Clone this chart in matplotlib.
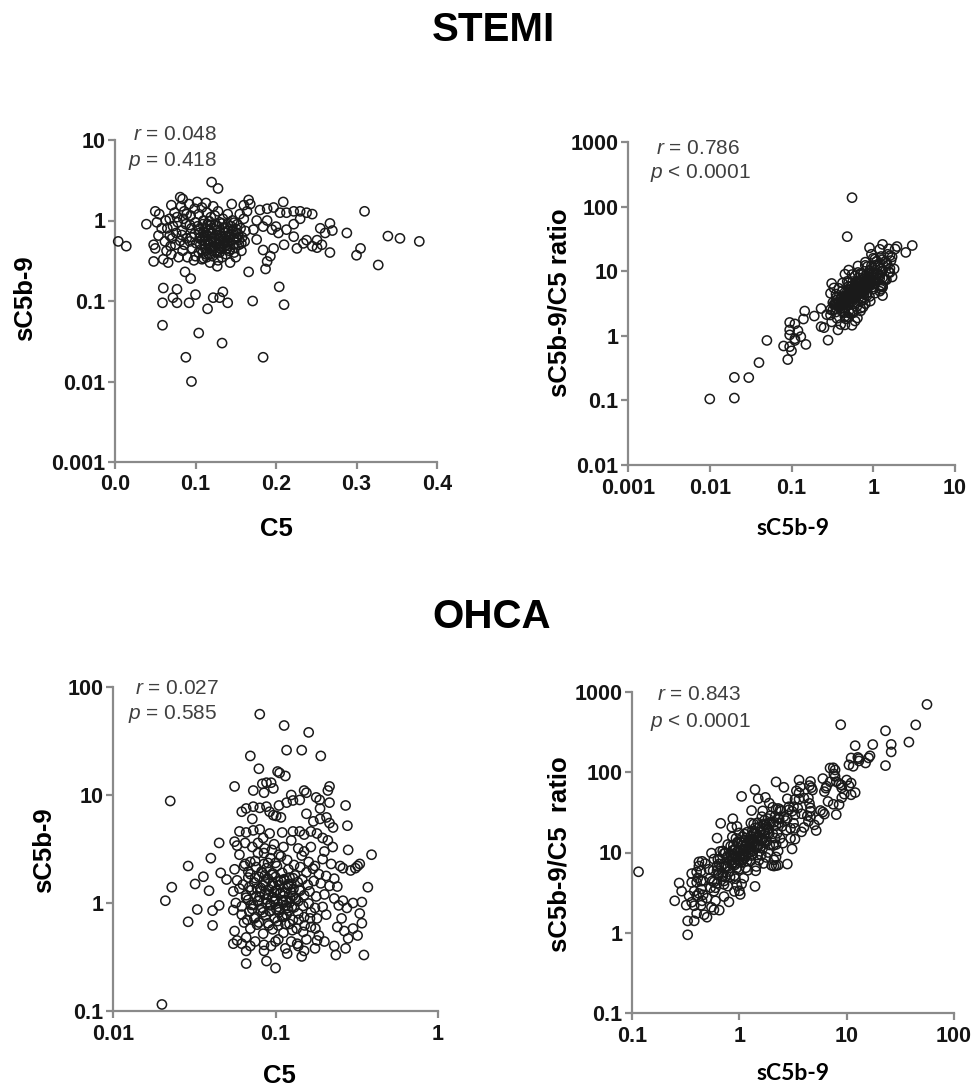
import numpy as np
import matplotlib.pyplot as plt
from matplotlib.ticker import NullLocator

plt.rcParams['font.family'] = 'Liberation Sans'
plt.rcParams['mathtext.fontset'] = 'custom'
plt.rcParams['mathtext.it'] = 'Liberation Sans:italic'
plt.rcParams['mathtext.rm'] = 'Liberation Sans'

# ---- STEMI: C5 and sC5b-9 per patient (ratio panel is sC5b-9 / C5) ----
stemi_c5 = [
    0.004, 0.014, 0.039, 0.048, 0.048, 0.060, 0.059, 0.059, 0.077, 0.072,
    0.077, 0.092, 0.087, 0.094, 0.100, 0.104, 0.088, 0.095, 0.115, 0.122,
    0.130, 0.134, 0.140, 0.133, 0.120, 0.128, 0.166, 0.171, 0.187, 0.184,
    0.204, 0.210, 0.209, 0.310, 0.288, 0.300, 0.305, 0.327, 0.339, 0.354,
    0.378, 0.267, 0.270, 0.267,
    0.180, 0.189, 0.197, 0.205, 0.213, 0.222, 0.230, 0.238, 0.245, 0.230,
    0.222, 0.213, 0.200, 0.195, 0.203, 0.210, 0.226, 0.234, 0.238, 0.245,
    0.251, 0.255, 0.261, 0.251, 0.257, 0.222, 0.197, 0.193, 0.189, 0.184,
    0.176, 0.172, 0.184, 0.189, 0.176, 0.164, 0.168, 0.160, 0.166,
    0.050, 0.055, 0.052, 0.058, 0.054, 0.050, 0.062, 0.064, 0.060, 0.066,
    0.068, 0.070, 0.072, 0.068, 0.075, 0.070, 0.074, 0.078, 0.076, 0.079,
    0.081, 0.084, 0.082, 0.086, 0.085, 0.088, 0.083, 0.089, 0.086, 0.084,
    0.090, 0.092, 0.094, 0.095, 0.093, 0.096, 0.098, 0.099, 0.100, 0.099,
    0.102, 0.104, 0.103, 0.105, 0.106, 0.104, 0.108, 0.108, 0.110, 0.110,
    0.111, 0.112, 0.113, 0.114, 0.115, 0.115, 0.116, 0.117, 0.118, 0.119,
    0.120, 0.120, 0.121, 0.118, 0.112, 0.122, 0.124, 0.124, 0.125, 0.126,
    0.126, 0.127, 0.128, 0.130, 0.130, 0.131, 0.132, 0.133, 0.134, 0.135,
    0.136, 0.137, 0.138, 0.140, 0.140, 0.141, 0.142, 0.143, 0.145, 0.146,
    0.147, 0.148, 0.149, 0.150, 0.152, 0.153, 0.154, 0.155, 0.156, 0.157,
    0.158, 0.160, 0.161, 0.162,
    0.105, 0.108, 0.112, 0.117, 0.119, 0.123, 0.127, 0.129, 0.131, 0.134,
    0.137, 0.139, 0.143, 0.144, 0.147, 0.151, 0.109, 0.114, 0.121, 0.128,
    0.101, 0.104, 0.107, 0.109, 0.111, 0.113, 0.115, 0.117, 0.119, 0.121,
    0.123, 0.125, 0.127, 0.129, 0.131, 0.133, 0.135, 0.137, 0.139, 0.141,
    0.143, 0.145, 0.148, 0.151, 0.154, 0.157, 0.100, 0.106, 0.112, 0.118,
    0.124, 0.130, 0.136, 0.142, 0.148, 0.110, 0.120, 0.130, 0.140, 0.150,
    0.065, 0.071, 0.077, 0.083, 0.089, 0.095, 0.063, 0.069, 0.081, 0.093,
]
stemi_sc5b9 = [
    0.55, 0.48, 0.90, 0.50, 0.31, 0.145, 0.095, 0.05, 0.14, 0.11,
    0.095, 0.095, 0.23, 0.19, 0.12, 0.04, 0.02, 0.01, 0.08, 0.11,
    0.11, 0.13, 0.095, 0.03, 3.0, 2.5, 0.23, 0.10, 0.25, 0.02,
    0.15, 0.09, 1.7, 1.3, 0.70, 0.37, 0.45, 0.28, 0.64, 0.60,
    0.55, 0.92, 0.75, 0.40,
    1.35, 1.40, 1.45, 1.25, 1.25, 1.30, 1.30, 1.25, 1.20, 1.05,
    0.90, 0.77, 0.84, 0.77, 0.70, 0.50, 0.45, 0.52, 0.57, 0.48,
    0.57, 0.80, 0.70, 0.46, 0.50, 0.63, 0.45, 0.36, 0.31, 0.43,
    0.58, 0.77, 0.84, 1.00, 1.00, 1.30, 1.60, 1.55, 1.80,
    1.30, 1.20, 0.95, 0.80, 0.65, 0.45, 0.55, 0.42, 0.33, 0.30,
    1.05, 1.55, 0.85, 0.65, 0.50, 0.38, 1.25, 0.95, 0.70, 0.35,
    1.95, 1.85, 1.50, 1.30, 1.05, 0.90, 0.75, 0.60, 0.50, 0.42,
    0.35, 1.60, 1.15, 0.80, 0.55, 0.45, 0.32, 1.40, 0.95, 0.68,
    1.70, 1.20, 0.85, 0.60, 0.50, 0.40, 0.33, 1.45, 1.00, 0.72,
    0.55, 0.45, 1.65, 1.25, 0.90, 0.65, 0.52, 0.38, 0.30, 1.10,
    0.80, 0.60, 0.48, 0.70, 0.62, 1.50, 1.15, 0.88, 0.66, 0.50,
    0.40, 0.27, 1.30, 0.95, 0.72, 0.55, 0.44, 0.35, 1.05, 0.80,
    0.60, 0.48, 0.38, 1.20, 0.90, 0.52, 0.42, 0.30, 1.60, 1.00,
    0.75, 0.58, 0.46, 0.35, 0.90, 0.68, 0.50, 1.20, 0.80, 0.42,
    0.62, 1.05, 0.55, 0.74,
    0.70, 0.58, 0.80, 0.75, 0.55, 0.62, 0.85, 0.46, 0.64, 0.52,
    0.70, 0.45, 0.62, 0.85, 0.50, 0.60, 0.40, 0.35, 0.36, 0.32,
    0.52, 0.78, 0.44, 0.90, 0.66, 0.38, 0.56, 0.98, 0.46, 0.70,
    0.54, 0.42, 0.76, 0.60, 0.48, 0.92, 0.56, 0.64, 0.50, 0.74,
    0.44, 0.68, 0.40, 0.78, 0.58, 0.52, 0.36, 0.62, 0.50, 0.88,
    0.46, 0.58, 0.82, 0.66, 0.94, 0.34, 0.42, 0.40, 0.56, 0.70,
    0.80, 0.60, 1.10, 0.66, 1.20, 0.62, 1.00, 0.48, 0.56, 0.88,
]

# ---- OHCA ----
ohca_c5 = [
    0.020, 0.021, 0.0225, 0.023, 0.029, 0.029, 0.033, 0.032, 0.036, 0.039,
    0.040, 0.041, 0.041, 0.045, 0.045, 0.046, 0.050, 0.056, 0.070, 0.079,
    0.080, 0.083, 0.088, 0.094, 0.103, 0.106, 0.115, 0.113, 0.117, 0.145,
    0.160, 0.190, 0.215, 0.210, 0.187, 0.155, 0.270, 0.277, 0.280, 0.390,
    0.370, 0.350, 0.235, 0.330, 0.066, 0.088, 0.100, 0.145, 0.066, 0.062,
    0.055, 0.056,
    0.062, 0.066, 0.073, 0.080, 0.088, 0.092, 0.097, 0.101, 0.108, 0.117,
    0.128, 0.141, 0.155, 0.171, 0.188, 0.206, 0.215, 0.226, 0.060, 0.066,
    0.073, 0.080, 0.084, 0.092, 0.110, 0.128, 0.141, 0.150, 0.165, 0.180,
    0.195, 0.210, 0.058, 0.065, 0.072, 0.078, 0.086, 0.098, 0.112, 0.125,
    0.138, 0.150, 0.165, 0.200, 0.225, 0.250, 0.260, 0.290, 0.310, 0.320,
    0.073, 0.085, 0.097, 0.125, 0.150, 0.178, 0.215, 0.188, 0.072, 0.105,
    0.060, 0.070, 0.078, 0.085, 0.093, 0.100, 0.108, 0.118, 0.130, 0.145,
    0.160, 0.175, 0.195, 0.220,
    0.056, 0.064, 0.070, 0.076, 0.082, 0.088, 0.095, 0.102, 0.110, 0.120,
    0.132, 0.142, 0.155, 0.170, 0.185, 0.205, 0.230,
    0.058, 0.063, 0.068, 0.074, 0.079, 0.084, 0.090, 0.096, 0.100, 0.106,
    0.113, 0.120, 0.128, 0.137, 0.146, 0.158, 0.172, 0.190, 0.215, 0.240,
    0.055, 0.060, 0.066, 0.071, 0.076, 0.081, 0.086, 0.091, 0.096, 0.101,
    0.107, 0.112, 0.118, 0.125, 0.132, 0.140, 0.150, 0.162, 0.178, 0.200,
    0.230, 0.260, 0.300, 0.340,
    0.057, 0.062, 0.068, 0.073, 0.078, 0.083, 0.088, 0.093, 0.098, 0.104,
    0.110, 0.116, 0.122, 0.130, 0.138, 0.148, 0.160, 0.175, 0.195, 0.245,
    0.275,
    0.055, 0.062, 0.069, 0.075, 0.081, 0.087, 0.093, 0.099, 0.105, 0.112,
    0.120, 0.128, 0.138, 0.150, 0.165, 0.180, 0.205, 0.255, 0.330, 0.340,
    0.056, 0.064, 0.070, 0.077, 0.084, 0.090, 0.096, 0.104, 0.112, 0.122,
    0.135, 0.148, 0.165, 0.185, 0.240, 0.265, 0.300, 0.320,
    0.058, 0.066, 0.075, 0.085, 0.094, 0.104, 0.115, 0.125, 0.138, 0.150,
    0.180, 0.280, 0.270,
    0.066, 0.069, 0.072, 0.075, 0.078, 0.081, 0.084, 0.087, 0.090, 0.093,
    0.096, 0.099, 0.102, 0.105, 0.108, 0.111, 0.114, 0.117, 0.120, 0.123,
    0.126, 0.129, 0.068, 0.074, 0.080, 0.086, 0.092, 0.098, 0.104, 0.110,
    0.116, 0.122, 0.128, 0.071, 0.077, 0.083, 0.089, 0.095, 0.101, 0.107,
    0.113, 0.119, 0.125, 0.134, 0.142, 0.067, 0.079, 0.091, 0.103, 0.115,
    0.127, 0.139, 0.151, 0.163, 0.176, 0.070, 0.085, 0.100, 0.118, 0.136,
    0.155, 0.175, 0.200, 0.230, 0.085, 0.095, 0.105, 0.065, 0.075, 0.090,
]
ohca_sc5b9 = [
    0.115, 1.05, 8.8, 1.4, 2.2, 0.67, 0.87, 1.5, 1.75, 1.3,
    2.6, 0.85, 0.62, 3.6, 0.95, 1.9, 1.65, 12.0, 23.0, 17.5,
    56.0, 12.7, 13.0, 13.0, 16.5, 16.0, 15.0, 44.0, 26.0, 26.0,
    38.0, 23.0, 12.0, 11.0, 9.0, 10.5, 8.0, 5.2, 3.1, 2.8,
    1.4, 0.33, 0.33, 2.3, 0.275, 0.29, 0.25, 0.32, 0.36, 0.42,
    0.42, 3.7,
    7.0, 7.5, 7.8, 7.6, 7.8, 7.0, 6.5, 6.4, 6.2, 8.5,
    8.9, 9.0, 6.7, 5.7, 6.0, 6.2, 5.5, 5.0, 4.6, 4.5,
    4.7, 4.8, 4.0, 4.4, 4.5, 4.6, 4.6, 4.3, 4.6, 4.4,
    4.0, 3.8, 3.4, 3.6, 3.3, 3.6, 3.2, 3.5, 3.3, 3.8,
    3.2, 3.0, 3.3, 3.0, 3.3, 2.2, 2.1, 2.0, 2.1, 2.2,
    11.0, 10.5, 11.5, 10.0, 11.0, 9.5, 8.5, 7.5, 6.0, 8.0,
    2.8, 2.4, 2.9, 2.3, 2.6, 2.35, 2.7, 2.5, 2.25, 2.75,
    2.4, 2.2, 2.55, 2.3,
    2.05, 2.2, 1.85, 2.15, 1.95, 2.1, 1.82, 2.2, 1.9, 2.05,
    1.8, 2.15, 1.92, 2.08, 1.85, 1.78, 1.68,
    1.62, 1.48, 1.72, 1.55, 1.75, 1.45, 1.68, 1.52, 1.74, 1.46,
    1.63, 1.5, 1.7, 1.56, 1.65, 1.47, 1.6, 1.52, 1.44, 1.42,
    1.28, 1.36, 1.18, 1.32, 1.15, 1.38, 1.22, 1.34, 1.14, 1.3,
    1.24, 1.16, 1.38, 1.26, 1.12, 1.33, 1.18, 1.28, 1.15, 1.2,
    1.1, 1.05, 1.0, 1.02,
    1.0, 0.93, 1.07, 0.96, 1.04, 0.9, 1.08, 0.97, 1.03, 0.92,
    1.06, 0.95, 1.01, 0.91, 1.04, 0.94, 0.99, 0.9, 0.92, 0.95,
    0.9,
    0.86, 0.78, 0.83, 0.74, 0.86, 0.77, 0.84, 0.72, 0.82, 0.75,
    0.85, 0.7, 0.8, 0.74, 0.82, 0.72, 0.78, 0.72, 0.8, 0.65,
    0.55, 0.66, 0.58, 0.63, 0.52, 0.65, 0.57, 0.62, 0.53, 0.64,
    0.58, 0.54, 0.6, 0.5, 0.6, 0.55, 0.58, 0.5,
    0.45, 0.48, 0.44, 0.41, 0.4, 0.46, 0.38, 0.44, 0.4, 0.36,
    0.45, 0.47, 0.38,
    1.12, 1.40, 0.88, 1.70, 1.05, 1.28, 0.82, 1.55, 1.18, 0.95,
    1.88, 1.08, 1.32, 0.86, 1.62, 1.02, 1.24, 0.78, 1.45, 1.10,
    0.92, 1.35, 1.95, 0.72, 1.14, 1.80, 0.84, 1.26, 1.58, 0.74,
    1.06, 1.72, 1.16, 0.96, 1.36, 1.90, 1.00, 1.44, 0.88, 1.22,
    1.66, 0.90, 1.50, 1.08, 1.30, 0.70, 0.66, 0.62, 0.68, 0.64,
    0.56, 0.70, 0.62, 0.72, 0.58, 0.40, 0.36, 0.44, 0.34, 0.42,
    0.46, 0.38, 0.44, 0.40, 2.9, 3.1, 2.8, 2.3, 2.45, 2.35,
]

stemi_ratio = np.array(stemi_sc5b9) / np.array(stemi_c5)
ohca_ratio = np.array(ohca_sc5b9) / np.array(ohca_c5)

# ticks
stemi_c5_ticks = [0.0, 0.1, 0.2, 0.3, 0.4]
stemi_c5_labels = ['0.0', '0.1', '0.2', '0.3', '0.4']
stemi_sc_ticks = [0.001, 0.01, 0.1, 1, 10]
stemi_sc_labels = ['0.001', '0.01', '0.1', '1', '10']
stemi_ratio_ticks = [0.01, 0.1, 1, 10, 100, 1000]
stemi_ratio_labels = ['0.01', '0.1', '1', '10', '100', '1000']
ohca_c5_ticks = [0.01, 0.1, 1]
ohca_c5_labels = ['0.01', '0.1', '1']
ohca_sc_ticks = [0.1, 1, 10, 100]
ohca_sc_labels = ['0.1', '1', '10', '100']
ohca_ratio_ticks = [0.1, 1, 10, 100, 1000]
ohca_ratio_labels = ['0.1', '1', '10', '100', '1000']

W, H = 971, 1086
fig = plt.figure(figsize=(W / 100, H / 100), dpi=100)
AX_GREY = '#8a8a8a'
TXT_GREY = '#404040'


def box(l, t, r, b):
    return [l / W, 1 - b / H, (r - l) / W, (b - t) / H]


def panel(rect, x, y, xlog, xticks, xlabels, yticks, ylabels):
    ax = fig.add_axes(rect)
    ax.scatter(x, y, s=44, facecolors='none', edgecolors='#1a1a1a',
               linewidths=1.1, clip_on=False, zorder=3)
    if xlog:
        ax.set_xscale('log')
    ax.set_yscale('log')
    ax.set_xlim(xticks[0], xticks[-1])
    ax.set_ylim(yticks[0], yticks[-1])
    ax.set_xticks(xticks)
    ax.set_xticklabels(xlabels)
    ax.set_yticks(yticks)
    ax.set_yticklabels(ylabels)
    ax.xaxis.set_minor_locator(NullLocator())
    ax.yaxis.set_minor_locator(NullLocator())
    for s in ['top', 'right']:
        ax.spines[s].set_visible(False)
    for s in ['left', 'bottom']:
        ax.spines[s].set_color(AX_GREY)
        ax.spines[s].set_linewidth(1.6)
    ax.tick_params(direction='out', length=5, width=1.6, color=AX_GREY,
                   labelsize=15.5, labelcolor='#151515')
    ax.tick_params(axis='y', pad=2)
    ax.tick_params(axis='x', pad=4)
    for lab in ax.get_xticklabels() + ax.get_yticklabels():
        lab.set_fontweight('bold')
    ax.patch.set_visible(False)
    return ax


def ftext(x, y, s, **kw):
    fig.text(x / W, 1 - y / H, s, **kw)


panel(box(115, 140, 437, 462), stemi_c5, stemi_sc5b9, False,
      stemi_c5_ticks, stemi_c5_labels, stemi_sc_ticks, stemi_sc_labels)
panel(box(628, 142, 955, 465), stemi_sc5b9, stemi_ratio, True,
      stemi_sc_ticks, stemi_sc_labels, stemi_ratio_ticks, stemi_ratio_labels)
panel(box(113, 687, 438, 1011), ohca_c5, ohca_sc5b9, True,
      ohca_c5_ticks, ohca_c5_labels, ohca_sc_ticks, ohca_sc_labels)
panel(box(632, 692, 954, 1013), ohca_sc5b9, ohca_ratio, True,
      ohca_sc_ticks, ohca_sc_labels, ohca_ratio_ticks, ohca_ratio_labels)

# titles
ftext(493, 30, 'STEMI', fontsize=29, fontweight='bold', ha='center', va='center')
ftext(492, 617, 'OHCA', fontsize=29, fontweight='bold', ha='center', va='center')

# axis labels
lab = dict(fontsize=18.5, fontweight='bold', ha='center', va='center')
ftext(276, 529, 'C5', **lab)
ftext(25, 298, 'sC5b-9', rotation=90, **lab)
ftext(793, 529, 'sC5b-9', fontsize=16.5, fontweight='bold', family='Lato',
      ha='center', va='center')
ftext(559, 303, 'sC5b-9/C5 ratio', rotation=90, **lab)
ftext(279, 1076, 'C5', **lab)
ftext(44, 850, 'sC5b-9', rotation=90, **lab)
ftext(793, 1074, 'sC5b-9', fontsize=16.5, fontweight='bold', family='Lato',
      ha='center', va='center')
ftext(559, 854, 'sC5b-9/C5  ratio', rotation=90, **lab)

# correlation statistics
st = dict(fontsize=15, color=TXT_GREY, ha='left', va='center')
ftext(133, 134, '$r$ = 0.048', **st)
ftext(128, 161, '$p$ = 0.418', **st)
ftext(656, 148, '$r$ = 0.786', **st)
ftext(650, 173, '$p$ < 0.0001', **st)
ftext(135, 688, '$r$ = 0.027', **st)
ftext(128, 714, '$p$ = 0.585', **st)
ftext(657, 695, '$r$ = 0.843', **st)
ftext(650, 722, '$p$ < 0.0001', **st)

fig.savefig('out.png', dpi=100)
